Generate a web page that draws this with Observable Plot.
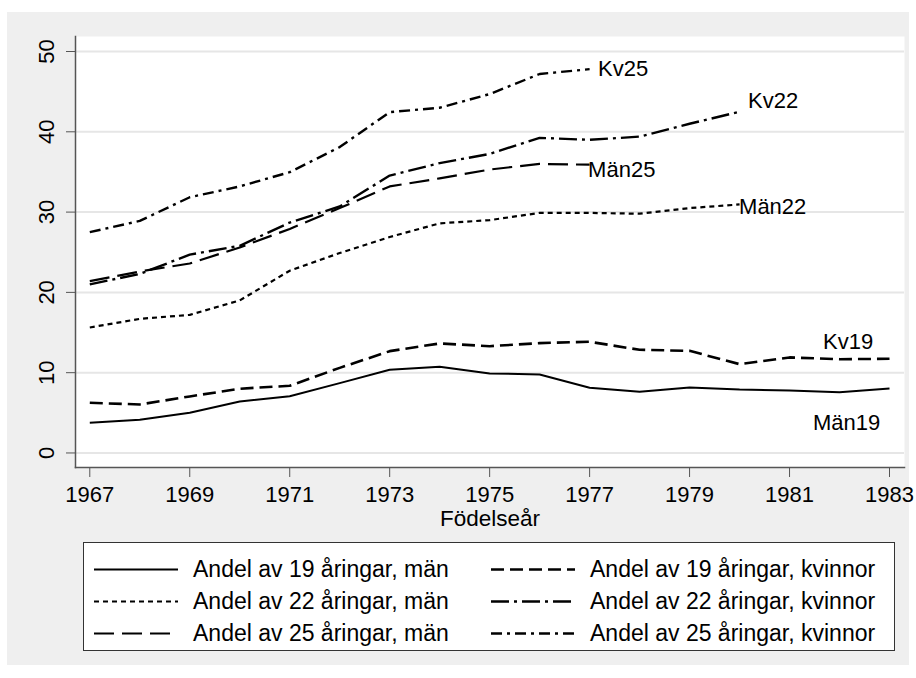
<!DOCTYPE html>
<html><head><meta charset="utf-8">
<script src="https://cdn.jsdelivr.net/npm/d3@7"></script>
<script src="https://cdn.jsdelivr.net/npm/@observablehq/plot@0.6"></script>
<style>
body{margin:0;background:#fff;font-family:"Liberation Sans",Arial,sans-serif;}
#wrap{position:relative;width:916px;height:678px;background:#fff;overflow:hidden}
#panel{position:absolute;left:7px;top:12px;width:902px;height:653px;background:#efefef}
#chart{position:absolute;left:0;top:0}
#legend{position:absolute;left:83px;top:542px;width:812px;height:109px;background:#fff;border:1px solid #333;box-sizing:border-box}
.item{position:absolute;display:flex;align-items:center;font-size:23px;line-height:23px;color:#000;white-space:nowrap;transform:translateY(-50%)}
.item svg{margin-right:15px;flex:none}
</style></head><body>
<div id="wrap"><div id="panel"></div><div id="chart"></div><div id="legend"></div></div>
<script>
// ---- data ----
const years = [1967,1968,1969,1970,1971,1972,1973,1974,1975,1976,1977,1978,1979,1980,1981,1982,1983];
const man19 = [3.76,4.13,5.0,6.4,7.07,8.7,10.36,10.73,9.9,9.78,8.12,7.62,8.16,7.9,7.78,7.57,8.03];
const kv19  = [6.25,6.04,7.04,8.0,8.37,10.6,12.68,13.64,13.3,13.68,13.85,12.85,12.72,11.06,11.9,11.68,11.73];
const man22 = [15.63,16.7,17.2,19.0,22.7,24.9,26.9,28.6,29.0,29.9,29.9,29.8,30.5,30.95];
const kv22  = [21.0,22.3,24.7,25.8,28.7,30.7,34.55,36.1,37.25,39.25,39.0,39.4,41.0,42.5];
const man25 = [21.4,22.6,23.6,25.6,27.9,30.5,33.2,34.2,35.3,36.0,35.9];
const kv25  = [27.5,28.9,31.85,33.2,34.97,38.1,42.45,43.0,44.7,47.2,47.8];

const xTicks = [1967,1969,1971,1973,1975,1977,1979,1981,1983];
const yTicks = [0,10,20,30,40,50];

const seriesNames = ["Män19","Kv19","Män22","Kv22","Män25","Kv25"];
const legendLabels = [
  "Andel av 19 åringar, män","Andel av 19 åringar, kvinnor",
  "Andel av 22 åringar, män","Andel av 22 åringar, kvinnor",
  "Andel av 25 åringar, män","Andel av 25 åringar, kvinnor"
];
// end-of-line labels: name, anchor year, anchor value
const lineLabels = [
  {label:"Kv25",  x:1977.17, y:47.8},
  {label:"Kv22",  x:1980.17, y:43.8},
  {label:"Män25", x:1976.97, y:35.2},
  {label:"Män22", x:1979.99, y:30.6},
  {label:"Kv19",  x:1981.67, y:13.8},
  {label:"Män19", x:1981.47, y:3.8}
];
const axisTitle = "Födelseår";

// ---- styles ----
const styles = {
  "Män19": {dash:null, w:2},
  "Kv19":  {dash:"13,6", w:2.6},
  "Män22": {dash:"5,4", w:2.2},
  "Kv22":  {dash:"18,5,3,5", w:2.4},
  "Män25": {dash:"20,8", w:2.2},
  "Kv25":  {dash:"11,5,3,5", w:2.4}
};

const seriesValues = [man19,kv19,man22,kv22,man25,kv25];
const toRows = (vals) => vals.map((v,i)=>({year:years[i], value:v}));

const lineMarks = seriesNames.map((name,i)=>{
  const s = styles[name];
  return Plot.line(toRows(seriesValues[i]), {
    x:"year", y:"value", stroke:"black", strokeWidth:s.w,
    strokeDasharray:s.dash ?? undefined, strokeLinejoin:"round", strokeLinecap:"butt"
  });
});

const font = "Liberation Sans, Arial, Helvetica, sans-serif";
const plot = Plot.plot({
  width:916, height:540,
  marginLeft:75, marginRight:12, marginTop:36, marginBottom:73,
  style:{background:"transparent", fontFamily:font, fontSize:"22px", overflow:"visible", color:"black"},
  x:{domain:[1966.714,1983.3]},
  y:{domain:[-1.81,51.87]},
  marks:[
    Plot.frame({fill:"white", stroke:null}),
    Plot.gridY(yTicks, {stroke:"#e6e6e6", strokeOpacity:1, strokeWidth:2}),
    Plot.frame({anchor:"left", stroke:"#555", strokeWidth:1.5}),
    Plot.frame({anchor:"bottom", stroke:"#555", strokeWidth:1.5}),
    Plot.axisX(xTicks, {tickSize:10, tickPadding:9, stroke:"#555", fontSize:22, label:null, tickFormat:d=>String(d), fill:"black"}),
    Plot.axisY(yTicks, {tickSize:9, stroke:"#555", label:null, tickFormat:()=>""}),
    Plot.text(yTicks, {y:d=>d, frameAnchor:"left", dx:-28.5, rotate:-90, text:d=>String(d), fontSize:22, fill:"black", textAnchor:"middle", lineAnchor:"middle"}),
    ...lineMarks,
    Plot.text(lineLabels, {x:"x", y:"y", text:"label", textAnchor:"start", lineAnchor:"middle", fontSize:22, fill:"black"}),
    Plot.text([axisTitle], {frameAnchor:"bottom", dy:51, text:d=>d, fontSize:22.5, fill:"black", lineAnchor:"middle"})
  ]
});
document.getElementById("chart").appendChild(plot);

// ---- legend ----
const legend = document.getElementById("legend");
const rowY = [26,58,90];
const colX = [10,407];
seriesNames.forEach((name,i)=>{
  const s = styles[name];
  const item = document.createElement("div");
  item.className = "item";
  item.style.left = colX[i%2]+"px";
  item.style.top = rowY[Math.floor(i/2)]+"px";
  const svg = d3.create("svg").attr("width",84).attr("height",10);
  svg.append("line").attr("x1",0).attr("x2",84).attr("y1",5).attr("y2",5)
    .attr("stroke","black").attr("stroke-width",s.w)
    .attr("stroke-dasharray",s.dash);
  item.appendChild(svg.node());
  const span = document.createElement("span");
  span.textContent = legendLabels[i];
  item.appendChild(span);
  legend.appendChild(item);
});
</script>
</body></html>
